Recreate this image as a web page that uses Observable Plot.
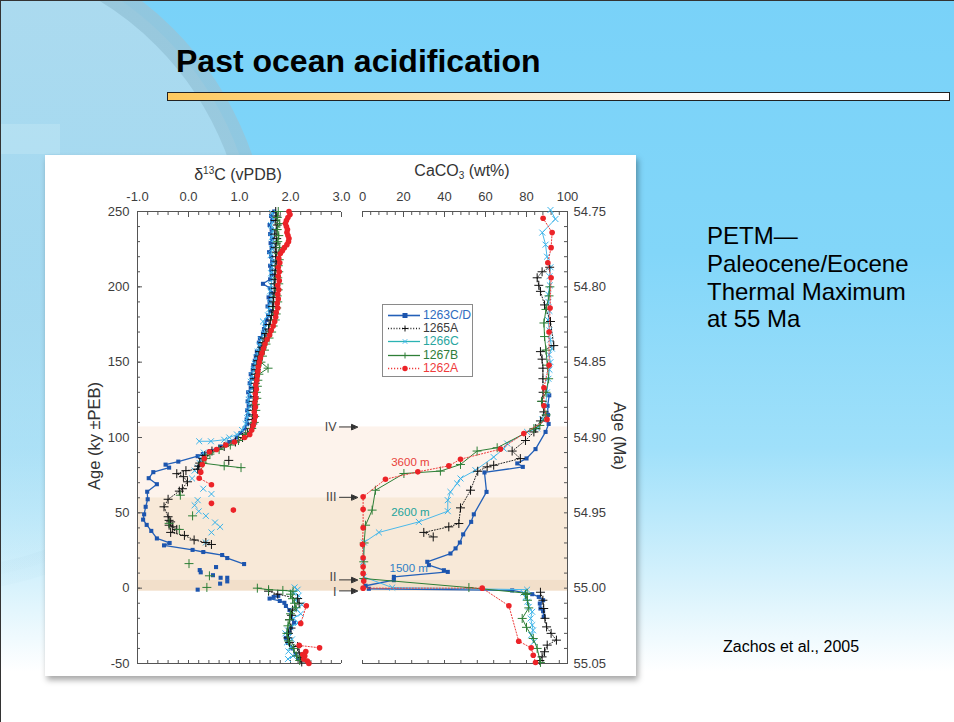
<!DOCTYPE html>
<html>
<head>
<meta charset="utf-8">
<script src="https://cdn.jsdelivr.net/npm/d3@7"></script>
<script src="https://cdn.jsdelivr.net/npm/@observablehq/plot@0.6"></script>
<style>
html, body { margin: 0; padding: 0; }
body { width: 954px; height: 722px; overflow: hidden; font-family: "Liberation Sans", Arial, sans-serif; }
#slide { position: relative; width: 954px; height: 722px; overflow: hidden;
  background: linear-gradient(to bottom, #79d2f9 0%, #82d6f9 35%, #9fe0fa 62%, #d4f1fc 80%, #ffffff 93%); }
#edge { position: absolute; left: 0; top: 0; width: 953px; height: 721px; border-left: 1px solid #333; border-top: 1px solid #333; pointer-events: none; }
#deco { position: absolute; left: 0; top: 0; }
#title { position: absolute; left: 176px; top: 45px; font-size: 32px; font-weight: bold; line-height: 32px; color: #000; white-space: nowrap; }
#bar { position: absolute; left: 167px; top: 92px; width: 781px; height: 7px; border: 1px solid #222;
  background: linear-gradient(to right, #fdc95e 0%, #fddc98 25%, #fdeccd 45%, #fff8ef 62%, #ffffff 80%); }
#figbox { position: absolute; left: 45px; top: 155px; width: 591px; height: 521px; background: #fff;
  box-shadow: 2px 4px 6px rgba(0,0,0,0.35); }
#plots { position: absolute; left: 45px; top: 155px; width: 590px; height: 523px; }
#plots svg { position: absolute; left: 0; top: 0; }
.atitle { position: absolute; color: #333; white-space: nowrap; transform: translate(-50%, -50%); font-size: 16px; line-height: 18px; }
.atitle sup, .atitle sub { font-size: 10px; }
.atitle sup { vertical-align: 6px; }
.atitle sub { vertical-align: -3px; }
.vtitle { position: absolute; color: #333; white-space: nowrap; font-size: 16.5px; line-height: 18px; }
#legend { position: absolute; left: 382px; top: 304px; width: 89px; height: 71px; border: 1px solid #8a8a8a; background: #fff; }
#legend .row { position: absolute; left: 4px; height: 13px; width: 86px; }
#legend .row svg { position: absolute; left: 0; top: 0; }
#legend .row span { position: absolute; left: 36px; top: -1px; font-size: 12.2px; line-height: 14px; }
#petm { position: absolute; left: 707px; top: 222px; font-size: 24px; line-height: 27.8px; color: #000; }
#cite { position: absolute; left: 723px; top: 638px; font-size: 16px; line-height: 18px; color: #000; }
</style>
</head>
<body>
<div id="slide">
  <svg id="deco" width="954" height="722">
    <defs>
      <linearGradient id="fadeG" x1="0" y1="0" x2="0" y2="1">
        <stop offset="0" stop-color="#b0dbee" stop-opacity="0.95"/>
        <stop offset="0.6" stop-color="#b0dbee" stop-opacity="0.7"/>
        <stop offset="1" stop-color="#c8e8f5" stop-opacity="0.15"/>
      </linearGradient>
      <linearGradient id="ringG" x1="0" y1="0" x2="0" y2="1">
        <stop offset="0" stop-color="#95c5da" stop-opacity="0.9"/>
        <stop offset="0.55" stop-color="#95c5da" stop-opacity="0.7"/>
        <stop offset="1" stop-color="#b5dcec" stop-opacity="0.1"/>
      </linearGradient>
    </defs>
    <circle cx="-60" cy="262" r="318" fill="url(#fadeG)" stroke="url(#ringG)" stroke-width="24"/>
    <rect x="0" y="124" width="60" height="30" fill="#c4e6f4" opacity="0.45"/>
  </svg>
  <div id="title">Past ocean acidification</div>
  <div id="bar"></div>
  <div id="figbox"></div>
  <div id="plots"></div>
  <div class="atitle" style="left:238px; top:173px;">δ<sup>13</sup>C (vPDB)</div>
  <div class="atitle" style="left:462px; top:173px;">CaCO<sub>3</sub> (wt%)</div>
  <div class="vtitle" style="left:94px; top:436px; transform: translate(-50%,-50%) rotate(-90deg);">Age (ky ±PEB)</div>
  <div class="vtitle" style="left:620px; top:436px; transform: translate(-50%,-50%) rotate(90deg);">Age (Ma)</div>
  <div id="legend"></div>
  <div id="petm">PETM—<br>Paleocene/Eocene<br>Thermal Maximum<br>at 55 Ma</div>
  <div id="cite">Zachos et al., 2005</div>
  <div id="edge"></div>
</div>
<script>
// ---------- DATA ----------
// Each pair: [age in ky relative to PEB, value]; GAP breaks the connecting line
const GAP = [null, null];

// Tick values and labels
const d13cTicks = [-1, 0, 1, 2, 3];
const d13cTickLabels = ["-1.0", "0.0", "1.0", "2.0", "3.0"];
const caco3Ticks = [0, 20, 40, 60, 80, 100];
const caco3TickLabels = ["0", "20", "40", "60", "80", "100"];
const kyTicks = [250, 200, 150, 100, 50, 0, -50];
const kyTickLabels = ["250", "200", "150", "100", "50", "0", "-50"];
const maTickLabels = ["54.75", "54.80", "54.85", "54.90", "54.95", "55.00", "55.05"];

// Shaded intervals (ky)
const bandTop = [107, 60, 5.5];
const bandBottom = [60, 5.5, -2];

// Event markers
const eventLabels = ["IV", "III", "II", "I"];
const eventKy = [107, 60.3, 5.5, -1.8];
const eventLabelShift = [0, 0, -3, 1.5];

// Depth labels (placed in CaCO3 panel)
const depthLabels = ["3600 m", "2600 m", "1500 m"];
const depthKy = [83.4, 50.2, 13.3];
const depthCaco3 = [14.0, 14.0, 13.2];

// Site names
const sites = ["1263C/D", "1265A", "1266C", "1267B", "1262A"];

// δ13C (‰ vPDB)
const d13c_1263 = [[250,1.68],[247,1.62],[244,1.64],[241,1.59],[238,1.63],[235,1.60],[232,1.64],[229,1.61],[226,1.63],[223,1.58],[220,1.62],[217,1.64],[214,1.60],[211,1.62],[208,1.63],[205,1.60],[202,1.46],[199,1.60],[196,1.62],[193,1.57],[190,1.59],[187,1.55],[184,1.60],[181,1.56],[178,1.53],[175,1.50],[172,1.48],[169,1.46],[166,1.40],[163,1.38],[160,1.40],[157,1.34],[154,1.32],[151,1.30],[148,1.27],[145,1.26],[142,1.22],[139,1.24],[136,1.20],[133,1.22],[130,1.17],[127,1.20],[124,1.16],[121,1.18],[118,1.15],[115,1.17],[112,1.14],[109,1.15],[106,1.10],[103,1.02],[100,0.95],[97,0.80],[94,0.62],[91,0.42],[89,0.28],[87.6,0.18],[84,-0.20],[82,-0.45],[80,-0.38],[77,-0.69],[73,-0.78],[69,-0.62],[64,-0.81],[59,-0.80],[54,-0.84],[49,-0.87],[45.5,-0.89],[42,-0.82],[38,-0.73],[33,-0.62],[30,-0.37],[28.4,-0.48],[25.4,0.08],[24,0.29],[22,0.66],[20,0.76],[16,1.09],GAP,[14,0.54],GAP,[12,0.22],GAP,[10.5,0.24],GAP,[8.6,0.48],GAP,[6.9,0.63],GAP,[6.9,0.76],GAP,[3,0.62],GAP,[4.5,0.76],GAP,[-1,0.18],GAP,[-5.1,1.76],[-5.8,1.67],[-6.9,1.59],[-8.5,1.79],[-9.7,1.88],[-11.8,1.91],[-14.5,1.98],[-18.5,2.01],[-22.9,2.07],[-26.3,2.01],[-29.6,1.98],[-33,1.91],[-36.3,1.95],[-40,2.04],[-44,2.10],[-47,2.16]];

const d13c_1265 = [[250,1.71],[247,1.73],[244,1.70],[241,1.74],[238,1.72],[235,1.69],[232,1.73],[229,1.72],[226,1.70],[223,1.72],[220,1.71],[217,1.73],[214,1.70],[211,1.71],[208,1.69],[205,1.70],[202,1.68],[199,1.70],[196,1.68],[193,1.66],[190,1.67],[187,1.65],[184,1.66],[181,1.63],[178,1.61],[175,1.58],[172,1.57],[169,1.52],[166,1.49],[163,1.46],[160,1.44],[157,1.40],[154,1.38],[151,1.36],[148,1.34],[145,1.33],[142,1.31],[139,1.30],[136,1.31],[133,1.29],[130,1.28],[127,1.29],[124,1.27],[121,1.28],[118,1.26],[115,1.27],[112,1.25],[109,1.26],[106,1.22],[103,1.16],[100,1.06],[97,0.92],[94,0.70],[91,0.46],[88,0.32],[86,0.28],[83,0.22],[81,0.20],[79,0.18],[78,-0.05],[76,-0.23],[74,-0.10],[70.6,-0.02],[66,-0.12],[64.4,-0.18],[59,-0.40],[54,-0.48],[47.4,-0.40],[45,-0.38],[44,-0.35],[41.8,-0.38],[40.7,-0.31],[39,-0.23],[37,-0.35],[35,-0.08],[32,0.11],[30.3,0.34],[29,0.45],GAP,[84.8,0.79],GAP,[-2,1.57],[-4,1.75],[-6.9,2.14],[-10,2.17],[-14.5,2.04],[-18,2.02],[-21,1.98],[-26.5,2.01],[-30,1.96],[-33,1.95],[-36,1.98],[-38.7,2.14],[-43,2.17],[-46,2.20],[-49,2.22]];

const d13c_1266 = [[249,1.64],[245,1.66],[241,1.62],[237,1.65],[233,1.63],[229,1.66],[225,1.64],[221,1.61],[217,1.66],[213,1.64],[209,1.62],[205,1.64],[201,1.62],[197,1.60],[193,1.63],[189,1.60],[185,1.58],[181,1.56],[177,1.46],[173,1.50],[169,1.48],[165,1.42],[161,1.39],[157,1.36],[153,1.33],[149,1.30],[145,1.28],[141,1.25],[137,1.22],[133,1.24],[129,1.20],[125,1.18],[121,1.20],[117,1.17],[113,1.15],[109,1.12],[105,1.05],[102,0.95],[100,0.80],[98.5,0.70],[97.5,0.44],[97.5,0.21],GAP,[90,0.30],[86,0.25],[83,0.22],[80,0.18],[78,0.12],GAP,[72.8,0.07],GAP,[66,0.29],GAP,[62.5,0.45],GAP,[58.4,0.18],GAP,[55,0.12],GAP,[51,0.20],GAP,[48,0.34],GAP,[43.6,0.52],GAP,[40.7,0.62],GAP,[37,0.45],GAP,[30.3,0.34],GAP,[0.5,2.08],[-1,2.14],[-3,2.05],[-5,2.16],[-8,2.10],[-11,2.22],[-14,2.12],[-17,2.20],[-20,2.06],[-23,2.15],[-26,2.00],[-28,1.95],[-30,1.90],[-32,1.98],[-34,2.03],[-36,1.93],[-39,2.00],[-42,1.96],[-45,2.05],[-47,1.95]];

const d13c_1267 = [[250,1.76],[246,1.74],[242,1.79],[238,1.74],[234,1.77],[230,1.75],[226,1.79],[222,1.76],[218,1.78],[214,1.76],[210,1.77],[206,1.75],[202,1.77],[198,1.76],[194,1.74],[190,1.75],[186,1.73],[182,1.72],[178,1.70],[174,1.66],[170,1.63],[166,1.58],[162,1.52],[158,1.49],[154,1.45],[150,1.42],[146,1.56],[142,1.38],[138,1.36],[134,1.35],[130,1.33],[126,1.34],[122,1.31],[118,1.32],[114,1.30],[110,1.29],[106,1.24],[102,1.12],[98,0.98],[95,0.82],[92,0.60],[89,0.42],[86,0.34],[83,0.28],[81.2,0.70],[80,1.03],GAP,[61.7,-0.16],GAP,[48,0.08],GAP,[43,-0.38],GAP,[39,-0.18],GAP,[16.3,0.01],GAP,[8.2,0.41],GAP,[0.5,0.36],GAP,[0,1.35],[-1,1.57],[-1.5,1.85],[-2,2.05],[-4,2.00],[-7,2.04],[-10,2.08],[-13,2.11],[-17,2.00],[-21,1.98],[-25,1.95],[-30,1.93],[-35,1.96],[-40,2.06],[-45,2.12],[-48,2.18]];

const d13c_1262 = [[250,1.97],[248,1.99],[246,1.95],[244,1.92],[242,1.90],[240,1.92],[238,1.94],[236,1.93],[234,1.95],[232,1.97],[230,1.96],[228,1.93],[226,1.88],[224,1.84],[222,1.80],[219,1.77],[216,1.79],[213,1.76],[210,1.78],[207,1.76],[204,1.78],[201,1.75],[198,1.77],[195,1.75],[192,1.76],[189,1.74],[186,1.75],[183,1.72],[180,1.71],[177,1.69],[174,1.66],[171,1.62],[168,1.59],[165,1.54],[162,1.50],[159,1.47],[156,1.44],[153,1.41],[150,1.39],[147,1.37],[144,1.36],[141,1.35],[138,1.34],[135,1.32],[132,1.33],[129,1.31],[126,1.32],[123,1.30],[120,1.31],[117,1.29],[114,1.31],[111,1.29],[108,1.27],[105,1.24],[102,1.20],[100,1.10],[97,0.90],[95,0.73],[92,0.55],[90.5,0.41],[86,0.31],[82,0.27],[77,0.24],[73,0.21],[68.6,0.45],GAP,[56.3,0.45],GAP,[51.8,0.88],GAP,[-11.7,2.31],[-23.4,2.20],GAP,[-38,2.17],[-39.6,2.57],GAP,[-42,2.30],[-44,2.24],[-45,2.28],[-47,2.26],[-48.4,2.33],[-50,2.36]];

// CaCO3 (wt%)
const caco3_1263 = [[128,91.1],[121,90.3],[115,90.5],[109,90.8],[103.7,89.3],[92.3,84.4],[86.1,80.0],[82.8,75.5],[80.5,78.2],[76.8,59.5],[63.9,60.5],[49,54.3],[44,53.0],[35.7,49.1],[30.3,47.5],[26.4,45.4],[23,42.9],[17.5,31.6],[15.3,32.4],[11.9,39.7],[10.8,41.6],[7.5,15.3],[5.3,15.3],[1.6,1.5],[-0.4,3.1],[-1.5,73.0],[-4,82.8],[-5.8,86.0],[-8,88.1],[-10.2,86.5],[-13.5,86.8],[-15.3,88.1],[-19,88.4]];

const caco3_1265 = [[213,91.3],[210,87.6],[206,85.2],[201,86.0],[197,86.8],[188,88.8],[177,91.7],[161,93.3],[157,86.8],[152,87.6],[146,88.0],[139,88.0],[130,88.1],[124,87.6],[117,88.5],[111,86.8],[106,84.5],[103.7,83.6],[98,79.5],[91,73.0],[86,77.0],[81.6,64.0],[80.5,60.8],[77.6,56.2],[65,52.7],[53.3,47.8],[42.9,47.0],[40.7,42.1],[37,29.9],[34,34.5],GAP,[-2.7,86.8],[-8,88.0],[-13.5,88.4],[-20,89.0],[-25.7,89.8],[-30,92.0],[-34.5,94.6],[-37.8,90.1],[-42.2,88.8],[-45.6,87.6],[-48,86.5]];

const caco3_1266 = [[251,91.7],[245,94.1],[236,87.7],[228,89.3],[220,90.0],[213,91.7],[207,91.2],[201,91.4],[195,90.5],[190,90.7],[184,91.2],[178,90.5],[171,91.2],[165,91.6],[159,92.4],[155,91.0],[150,91.7],[145,91.2],[139,90.7],[130,90.0],[121,89.3],[112,87.7],[106,85.2],[103.7,80.3],[96,70.6],[92.6,68.9],[87,64.0],[78.3,55.1],[72.8,47.8],[69.5,46.2],[63.9,42.9],[58.4,41.6],[51.1,41.6],[44,27.5],[37,8.0],[30.3,0.7],[17.5,0.3],[7.5,0.6],[0.4,14.5],[-1,80.3],[-3,78.5],[-6,79.5],[-9,80.5],[-12.4,81.1],[-15.7,82.8],[-20.1,82.0],[-24.5,82.8],[-28,83.2],[-31.2,82.3],[-35.6,83.6]];

const caco3_1267 = [[200,91.4],[194,91.0],[185,89.5],[176,88.5],[167,88.8],[158,89.5],[148,90.2],[139,90.8],[130,89.5],[124,87.3],[115,89.6],[108,86.5],[105.9,83.6],[93.2,65.7],[91,55.9],[82.1,47.8],[77.7,38.0],[76.1,20.2],[65,6.3],[51.8,4.7],[41.8,1.5],[30,0.8],[17.5,0.6],[6.4,0.6],[0.4,51.9],[-3.4,80.3],[-4.2,79.5],[-8,80.5],[-13.1,81.1],[-20.1,77.9],[-26,80.0],[-33.4,83.3],[-40,85.2],[-49.3,86.8]];

const caco3_1262 = [[245.5,88.1],[236,92.5],[226,92.0],[216,90.4],[206,92.0],[186,91.5],[170,91.0],[148,91.0],[133,88.5],[121,88.5],[112,90.0],[102.6,78.7],[92.3,67.3],[85.6,47.8],[81.2,42.1],[77.2,27.0],[72.3,11.2],[60.6,0.3],[52.4,0.3],[40.1,0.3],[29,0.0],[20.2,0.3],[14.2,0.3],[9.8,0.3],[4.7,0.6],[0,0.3],[0,58.4],[-11.7,71.4],[-35.2,76.2],[-39.6,82.3],[-44.5,83.3],[-49.3,84.4]];

// ---------- STYLES ----------
const siteStyle = [
  {line: "#2360b8", mark: "#1d55ae", symbol: "square", r: 2.3, filled: true, w: 1.3, dash: null, text: "#2f6cc0"},
  {line: "#222222", mark: "#111111", symbol: "plus", r: 3.0, filled: false, w: 1, dash: "1,1.8", text: "#3a3a3a"},
  {line: "#4bb9ea", mark: "#3ab3ea", symbol: "times", r: 2.8, filled: false, w: 1, dash: null, text: "#2aa6a0"},
  {line: "#2e7f37", mark: "#2e7f37", symbol: "plus", r: 3.0, filled: false, w: 1, dash: null, text: "#2f7d3a"},
  {line: "#ee3a3a", mark: "#ec2328", symbol: "circle", r: 2.8, filled: true, w: 1, dash: "1.2,1.8", text: "#ee3b3b"}
];
const drawOrder = [0, 2, 1, 3, 4];
const bandColors = ["#fdf3ec", "#f8e9d8", "#f2dfca"];
const depthColors = ["#e8423a", "#22a39b", "#2f80c6"];
const axisColor = "#555";

const leftData = [d13c_1263, d13c_1265, d13c_1266, d13c_1267, d13c_1262];
const rightData = [caco3_1263, caco3_1265, caco3_1266, caco3_1267, caco3_1262];

function seriesMarks(data, s) {
  const X = d => d[1], Y = d => d[0];
  const line = Plot.line(data, {x: X, y: Y, stroke: s.line, strokeWidth: s.w, strokeDasharray: s.dash || undefined});
  const dots = s.filled
    ? Plot.dot(data, {x: X, y: Y, symbol: s.symbol, r: s.r, fill: s.mark, stroke: "none"})
    : Plot.dot(data, {x: X, y: Y, symbol: s.symbol, r: s.r, stroke: s.mark, strokeWidth: 1, fill: "none"});
  return [line, dots];
}

const tickMap = (vals, labels) => { const m = new Map(vals.map((v, i) => [v, labels[i]])); return d => m.get(d); };
const kyMinor = d3.range(-50, 250.001, 10);
const d13cMinor = d3.range(0, 21).map(i => -1 + i * 0.2);
const caco3MinorTop = d3.range(0, 101, 4);
const caco3MinorBottom = d3.range(0, 101, 8);

const common = {
  width: 590, height: 523, marginTop: 56, marginBottom: 15,
  y: {domain: [-50, 250], label: null},
  style: {background: "transparent", overflow: "visible", fontFamily: '"Liberation Sans", Arial, sans-serif', fontSize: "13px", color: "#3d3d3d"}
};

const bands = bandTop.map((t, i) => ({top: t, bottom: bandBottom[i]}));

const left = Plot.plot({
  ...common,
  marginLeft: 92, marginRight: 294,
  x: {domain: [-1, 3], label: null},
  marks: [
    ...bands.map((b, i) => Plot.rect([b], {y1: "top", y2: "bottom", fill: bandColors[i], insetRight: -226})),
    Plot.ruleY([250, -50], {stroke: axisColor}),
    Plot.ruleX([-1], {stroke: axisColor}),
    Plot.axisX(d13cMinor, {anchor: "top", tickSize: -3, fill: "none", stroke: axisColor, label: null}),
    Plot.axisX(d13cTicks, {anchor: "top", tickSize: -5, fill: "none", stroke: axisColor, label: null}),
    Plot.axisX(d13cTicks, {anchor: "top", tickSize: 0, tickPadding: 11, tickFormat: tickMap(d13cTicks, d13cTickLabels), label: null}),
    Plot.axisX(d13cMinor, {anchor: "bottom", tickSize: -3, fill: "none", stroke: axisColor, label: null}),
    Plot.axisY(kyMinor, {anchor: "left", tickSize: -3, fill: "none", stroke: axisColor, label: null}),
    Plot.axisY(kyTicks, {anchor: "left", tickSize: -5, fill: "none", stroke: axisColor, label: null}),
    Plot.axisY(kyTicks, {anchor: "left", tickSize: 0, tickPadding: 8, tickFormat: tickMap(kyTicks, kyTickLabels), label: null}),
    ...drawOrder.flatMap(i => seriesMarks(leftData[i], siteStyle[i]))
  ]
});

const arrowShape = {
  draw(c, l) {
    c.moveTo(0, 0); c.lineTo(0, -l + 4);
    c.moveTo(0, -l); c.lineTo(-2.6, -l + 6); c.lineTo(2.6, -l + 6); c.closePath();
  }
};
const events = eventLabels.map((t, i) => ({label: t, ky: eventKy[i], shift: eventLabelShift[i]}));
const depths = depthLabels.map((t, i) => ({label: t, ky: depthKy[i], v: depthCaco3[i]}));

const right = Plot.plot({
  ...common,
  marginLeft: 317, marginRight: 68,
  x: {domain: [0, 100], label: null},
  marks: [
    Plot.ruleY([250, -50], {stroke: axisColor}),
    Plot.ruleX([100], {stroke: axisColor}),
    Plot.axisX(caco3MinorTop, {anchor: "top", tickSize: -3, fill: "none", stroke: axisColor, label: null}),
    Plot.axisX(caco3Ticks, {anchor: "top", tickSize: -5, fill: "none", stroke: axisColor, label: null}),
    Plot.axisX(caco3Ticks, {anchor: "top", tickSize: 0, tickPadding: 11, tickFormat: tickMap(caco3Ticks, caco3TickLabels), label: null}),
    Plot.axisX(caco3MinorBottom, {anchor: "bottom", tickSize: -3, fill: "none", stroke: axisColor, label: null}),
    Plot.axisY(kyMinor, {anchor: "right", tickSize: -4, fill: "none", stroke: axisColor, label: null}),
    Plot.axisY(kyTicks, {anchor: "right", tickSize: 0, tickPadding: 6, tickFormat: tickMap(kyTicks, maTickLabels), label: null}),
    ...drawOrder.flatMap(i => seriesMarks(rightData[i], siteStyle[i])),
    Plot.vector(events, {y: "ky", frameAnchor: "left", dx: -5, rotate: 90, length: 18, anchor: "end", shape: arrowShape, stroke: "#333", fill: "#333", strokeWidth: 1}),
    ...events.map(e => Plot.text([e], {y: "ky", text: "label", frameAnchor: "left", dx: -26, dy: e.shift, textAnchor: "end", fontSize: 12.5, fill: "#444"})),
    ...depths.map((d, i) => Plot.text([d], {x: "v", y: "ky", text: "label", textAnchor: "start", fontSize: 11.5, fill: depthColors[i]}))
  ]
});

document.getElementById("plots").append(left, right);

// Legend
const legend = document.getElementById("legend");
sites.forEach((name, i) => {
  const s = siteStyle[i];
  const row = document.createElement("div");
  row.className = "row";
  row.style.top = (3.5 + i * 13.4) + "px";
  let marker;
  if (s.symbol === "square") marker = `<rect x="15.5" y="4" width="5" height="5" fill="${s.mark}"/>`;
  else if (s.symbol === "circle") marker = `<circle cx="18" cy="6.5" r="2.7" fill="${s.mark}"/>`;
  else if (s.symbol === "plus") marker = `<path d="M18,3.5V9.5M15,6.5H21" stroke="${s.mark}" stroke-width="1"/>`;
  else marker = `<path d="M15.8,4.3L20.2,8.7M15.8,8.7L20.2,4.3" stroke="${s.mark}" stroke-width="1"/>`;
  const lineCol = i === 2 ? "#2bb3b3" : s.line;
  row.innerHTML = `<svg width="34" height="13"><line x1="1" y1="6.5" x2="33" y2="6.5" stroke="${lineCol}" stroke-width="${s.w + 0.3}" ${s.dash ? `stroke-dasharray="${s.dash}"` : ""}/>${marker}</svg><span style="color:${s.text}">${name}</span>`;
  legend.appendChild(row);
});
</script>
</body>
</html>
